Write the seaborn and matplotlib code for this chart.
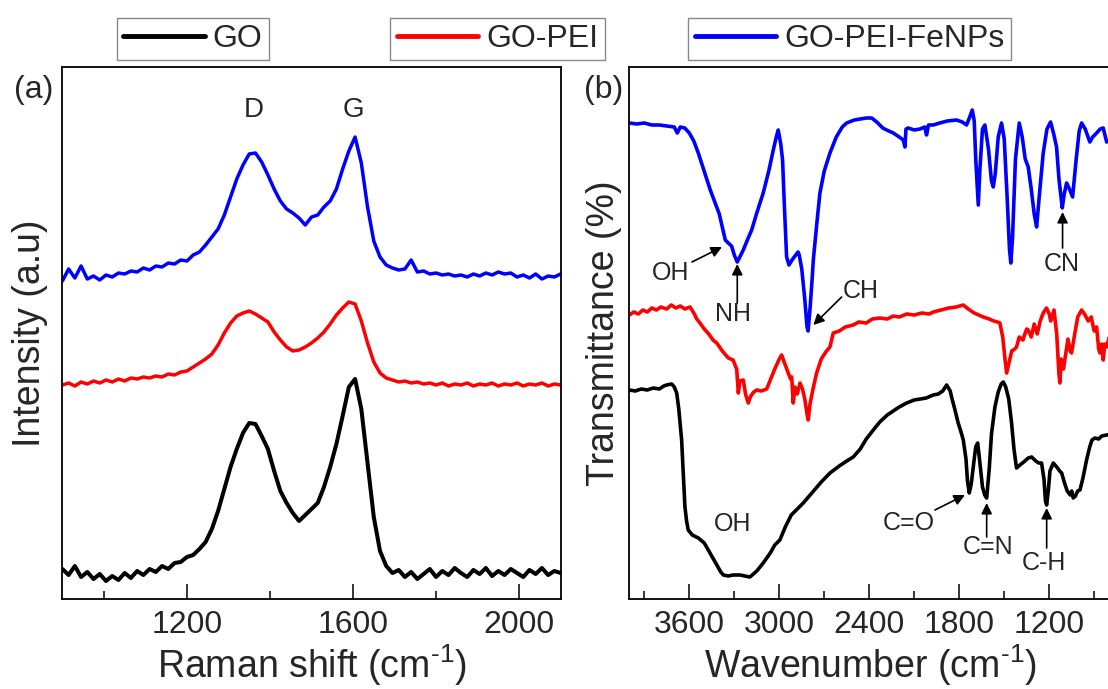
import numpy as np
import pandas as pd
import matplotlib
matplotlib.use("Agg")
import matplotlib.pyplot as plt
import seaborn as sns
from matplotlib.lines import Line2D
from matplotlib.ticker import MultipleLocator

# ---------------- Raman data (panel a) ----------------
raman_shift = [900, 915, 930, 945, 960, 975, 990, 1005, 1020, 1035, 1050, 1065, 1080, 1095,
               1110, 1125, 1140, 1155, 1170, 1185, 1200, 1215, 1230, 1245, 1260, 1275, 1290,
               1305, 1320, 1335, 1350, 1365, 1380, 1395, 1410, 1425, 1440, 1455, 1470, 1485,
               1500, 1515, 1530, 1545, 1560, 1575, 1590, 1605, 1620, 1635, 1650, 1665, 1680,
               1695, 1710, 1725, 1740, 1755, 1770, 1785, 1800, 1815, 1830, 1845, 1860, 1875,
               1890, 1905, 1920, 1935, 1950, 1965, 1980, 1995, 2010, 2025, 2040, 2055, 2070,
               2085, 2100]

raman_go = [30, 24, 33, 22, 27, 20, 25, 18, 23, 19, 26, 21, 28, 24, 30, 27, 33, 30, 36, 37,
            42, 44, 50, 57, 70, 88, 110, 132, 150, 166, 176, 175, 163, 150, 128, 108, 96, 86,
            78, 84, 90, 96, 112, 132, 155, 183, 212, 220, 190, 136, 82, 48, 33, 26, 29, 22,
            27, 20, 25, 30, 22, 28, 24, 31, 26, 22, 29, 25, 31, 23, 28, 24, 30, 26, 22, 29,
            25, 31, 24, 28, 26]

raman_go_pei = [214, 216, 213, 217, 215, 218, 216, 219, 217, 220, 218, 221, 220, 222, 221,
                223, 222, 225, 224, 227, 228, 232, 236, 240, 245, 254, 266, 276, 283, 286,
                288, 285, 281, 277, 267, 259, 252, 248, 249, 252, 256, 261, 267, 275, 284,
                291, 297, 295, 278, 256, 237, 226, 221, 219, 217, 218, 216, 217, 215, 216,
                214, 216, 213, 215, 214, 216, 213, 215, 214, 216, 213, 215, 214, 216, 213,
                215, 214, 216, 213, 215, 214]

raman_go_pei_fe = [318, 330, 321, 333, 320, 323, 319, 324, 322, 326, 325, 328, 327, 331, 329,
                   333, 332, 336, 335, 339, 338, 344, 347, 354, 362, 370, 384, 402, 420, 434,
                   445, 446, 437, 424, 410, 398, 390, 386, 381, 374, 382, 384, 392, 398, 410,
                   430, 448, 462, 436, 392, 358, 342, 334, 331, 329, 330, 339, 327, 328, 325,
                   326, 324, 325, 323, 324, 322, 325, 323, 326, 324, 327, 325, 326, 322, 324,
                   321, 325, 320, 323, 322, 325]

# ---------------- FTIR data (panel b) ----------------
ftir_fe_wn = [4000, 3950, 3900, 3850, 3800, 3750, 3700, 3680, 3660, 3630, 3600, 3570, 3540,
              3510, 3480, 3460, 3430, 3400, 3380, 3360, 3340, 3318, 3300, 3280, 3260, 3240,
              3210, 3184, 3150, 3107, 3070, 3040, 3020, 3007, 2990, 2978, 2965, 2951, 2935,
              2915, 2895, 2875, 2867, 2850, 2830, 2815, 2808, 2795, 2780, 2773, 2750, 2729,
              2700, 2662, 2620, 2580, 2551, 2500, 2462, 2420, 2384, 2350, 2310, 2284, 2240,
              2200, 2173, 2162, 2155, 2140, 2100, 2062, 2030, 2018, 2005, 1973, 1930, 1880,
              1818, 1780, 1751, 1730, 1713, 1700, 1690, 1673, 1662, 1645, 1629, 1605, 1585,
              1573, 1560, 1540, 1518, 1500, 1480, 1465, 1456, 1445, 1425, 1400, 1380, 1360,
              1340, 1320, 1300, 1284, 1265, 1240, 1215, 1191, 1170, 1151, 1135, 1113, 1100,
              1084, 1065, 1044, 1020, 1000, 984, 960, 929, 910, 884, 860, 840, 817, 790]
ftir_fe_t = [476, 475, 476, 474, 474, 473, 472, 466, 472, 471, 466, 458, 446, 432, 418, 409,
             397, 385, 372, 359, 356, 353, 344, 337, 343, 349, 360, 369, 386, 406, 428, 449,
             462, 469, 455, 439, 390, 342, 334, 339, 343, 347, 344, 330, 300, 272, 268, 290,
             322, 339, 375, 406, 428, 446, 462, 472, 476, 479, 480, 481, 481, 477, 471, 469,
             466, 462, 459, 452, 470, 471, 469, 470, 472, 464, 474, 474, 476, 478, 479, 477,
             474, 482, 489, 478, 440, 394, 430, 470, 474, 450, 418, 412, 425, 462, 476, 460,
             400, 350, 336, 360, 440, 476, 462, 440, 432, 410, 385, 372, 405, 446, 470, 477,
             465, 452, 420, 391, 405, 416, 410, 402, 440, 468, 476, 470, 457, 462, 466, 470,
             471, 457, 460]

ftir_pei_wn = [4000, 3970, 3940, 3910, 3880, 3850, 3820, 3790, 3751, 3720, 3690, 3660, 3630,
               3595, 3570, 3550, 3529, 3500, 3470, 3442, 3417, 3380, 3340, 3308, 3290, 3284,
               3273, 3262, 3240, 3225, 3207, 3190, 3170, 3151, 3120, 3084, 3060, 3030, 3000,
               2984, 2965, 2945, 2925, 2917, 2907, 2895, 2880, 2862, 2845, 2830, 2815, 2807,
               2795, 2775, 2751, 2720, 2690, 2662, 2640, 2600, 2560, 2507, 2470, 2420, 2380,
               2329, 2280, 2240, 2200, 2150, 2100, 2050, 2000, 1973, 1920, 1870, 1820, 1773,
               1740, 1700, 1670, 1640, 1600, 1570, 1545, 1529, 1510, 1495, 1484, 1470, 1450,
               1430, 1418, 1400, 1385, 1375, 1365, 1350, 1340, 1320, 1300, 1280, 1260, 1240,
               1218, 1200, 1190, 1168, 1150, 1135, 1129, 1120, 1105, 1090, 1075, 1060, 1051,
               1030, 1010, 984, 965, 940, 920, 900, 884, 870, 862, 850, 840, 830, 817, 800, 790]
ftir_pei_t = [284, 287, 285, 289, 287, 291, 289, 292, 290, 294, 291, 293, 290, 292, 286, 280,
              276, 270, 265, 259, 256, 248, 241, 239, 232, 230, 206, 218, 219, 205, 196, 203,
              207, 209, 208, 210, 219, 230, 240, 244, 236, 228, 220, 222, 196, 212, 205, 216,
              210, 200, 185, 179, 195, 210, 226, 240, 247, 252, 266, 268, 272, 274, 277, 276,
              280, 281, 280, 283, 282, 285, 284, 286, 285, 287, 289, 291, 292, 294, 290, 286,
              284, 282, 280, 278, 277, 276, 262, 240, 226, 235, 248, 250, 252, 262, 260, 259,
              264, 270, 269, 262, 275, 265, 278, 286, 291, 285, 278, 289, 265, 225, 216, 240,
              230, 245, 260, 248, 246, 265, 282, 289, 285, 278, 282, 268, 272, 250, 246, 255,
              239, 255, 252, 262, 258]

ftir_go_wn = [4000, 3960, 3920, 3880, 3840, 3800, 3770, 3751, 3717, 3700, 3684, 3670, 3651,
              3640, 3629, 3618, 3607, 3580, 3540, 3500, 3462, 3420, 3390, 3373, 3340, 3307,
              3260, 3230, 3196, 3150, 3107, 3060, 3030, 2996, 2960, 2920, 2880, 2840, 2800,
              2760, 2720, 2662, 2600, 2550, 2507, 2460, 2420, 2373, 2330, 2280, 2240, 2200,
              2151, 2100, 2060, 2020, 1973, 1940, 1910, 1884, 1860, 1851, 1830, 1807, 1790,
              1773, 1755, 1745, 1733, 1720, 1700, 1690, 1677, 1665, 1645, 1630, 1617, 1600,
              1585, 1562, 1540, 1520, 1506, 1490, 1470, 1451, 1435, 1418, 1395, 1370, 1340,
              1317, 1290, 1270, 1251, 1235, 1225, 1217, 1205, 1195, 1173, 1150, 1130, 1117,
              1100, 1080, 1060, 1050, 1040, 1025, 1010, 995, 975, 951, 930, 915, 895, 870,
              850, 817, 790]
ftir_go_t = [209, 208, 210, 209, 211, 210, 213, 214, 215, 212, 206, 190, 159, 125, 92, 78, 69,
             64, 61, 56, 46, 35, 27, 24, 23, 24, 24, 23, 22, 28, 36, 46, 54, 59, 72, 84, 90,
             96, 103, 110, 117, 126, 133, 138, 142, 150, 160, 169, 177, 184, 188, 192, 196,
             199, 200, 201, 204, 205, 208, 214, 208, 202, 190, 176, 168, 159, 140, 118, 106,
             115, 140, 152, 156, 140, 112, 104, 101, 130, 165, 192, 207, 215, 217, 212, 200,
             176, 150, 131, 134, 137, 141, 142, 138, 136, 136, 120, 98, 94, 110, 128, 136,
             132, 128, 126, 117, 108, 104, 108, 101, 103, 108, 109, 121, 139, 152, 159, 161,
             160, 163, 164, 165]

# annotation labels
raman_peaks = ["D", "G"]
ftir_labels = ["OH", "NH", "CH", "CN", "OH", "C=O", "C=N", "C-H"]

# ---------------- style ----------------
sns.set_style("ticks")
plt.rcParams["font.family"] = ["Liberation Sans", "DejaVu Sans"]
plt.rcParams["mathtext.fontset"] = "custom"
plt.rcParams["mathtext.rm"] = "Liberation Sans"
plt.rcParams["mathtext.it"] = "Liberation Sans:italic"
plt.rcParams["mathtext.default"] = "regular"

W, H = 1108, 689
fig = plt.figure(figsize=(W / 100, H / 100), dpi=100)
axA = fig.add_axes([62.4 / W, 90 / H, 498.2 / W, 532 / H])
axB = fig.add_axes([629.3 / W, 90 / H, 481.4 / W, 532 / H])

# panel a
for ys, col, lw in [(raman_go, "black", 2.9), (raman_go_pei, "red", 2.5),
                    (raman_go_pei_fe, "blue", 2.5)]:
    sns.lineplot(x=raman_shift, y=ys, color=col, lw=lw, ax=axA, sort=False, estimator=None)
axA.set_xlim(900, 2100)
axA.set_ylim(0, 532)
axA.set_yticks([])
axA.xaxis.set_major_locator(MultipleLocator(400))
axA.xaxis.set_minor_locator(MultipleLocator(200))
axA.set_xlabel(r"Raman shift (cm$^{\text{-}1}$)", fontsize=27, labelpad=2)
axA.set_ylabel("Intensity (a.u)", fontsize=27)
axA.yaxis.set_label_coords(-0.029, 0.5)
axA.text(1361, 489, raman_peaks[0], fontsize=20, ha="center", va="center")
axA.text(1602, 489, raman_peaks[1], fontsize=20, ha="center", va="center")

# panel b
for xs, ys, col in [(ftir_go_wn, ftir_go_t, "black"), (ftir_pei_wn, ftir_pei_t, "red"),
                    (ftir_fe_wn, ftir_fe_t, "blue")]:
    sns.lineplot(x=xs, y=ys, color=col, lw=2.6, ax=axB, sort=False, estimator=None)
axB.set_xlim(4000, 790)
axB.set_ylim(0, 532)
axB.set_yticks([])
axB.xaxis.set_major_locator(MultipleLocator(600))
axB.xaxis.set_minor_locator(MultipleLocator(300))
axB.set_xlabel(r"Wavenumber (cm$^{\text{-}1}$)", fontsize=27, labelpad=2)
axB.set_ylabel("Transmittance (%)", fontsize=27)
axB.yaxis.set_label_coords(-0.0152, 0.5)

# annotations: (label, text pos, arrow tail, arrow head)
ann = [
    (ftir_labels[0], (3722, 326), (3582, 337), (3382, 352)),
    (ftir_labels[1], (3309, 285), (3280, 296), (3280, 335)),
    (ftir_labels[2], (2455, 308), (2584, 302), (2773, 274)),
    (ftir_labels[3], (1115, 335), (1111, 351), (1111, 387)),
    (ftir_labels[4], (3309, 75), None, None),
    (ftir_labels[5], (2136, 76), (1962, 89), (1762, 104)),
    (ftir_labels[6], (1609, 52), (1617, 62), (1617, 96)),
    (ftir_labels[7], (1237, 36), (1217, 51), (1217, 91)),
]
for lab, tpos, tail, head in ann:
    axB.text(tpos[0], tpos[1], lab, fontsize=18, ha="center", va="center")
    if tail is not None:
        axB.annotate("", xy=head, xytext=tail,
                     arrowprops=dict(arrowstyle="-|>", color="black", lw=1.2,
                                     mutation_scale=16, shrinkA=0, shrinkB=0))

for ax in (axA, axB):
    for sp in ax.spines.values():
        sp.set_linewidth(1.3)
        sp.set_color("black")
    ax.tick_params(axis="x", which="major", direction="in", length=11, width=1.3,
                   labelsize=23, pad=8, top=False)
    ax.tick_params(axis="x", which="minor", direction="in", length=6, width=1.3, top=False)

fig.text(34 / W, 1 - 90 / H, "(a)", fontsize=23, ha="center", va="center")
fig.text(604 / W, 1 - 90 / H, "(b)", fontsize=23, ha="center", va="center")

# three separate legend boxes
for lab, col, cx in [("GO", "black", 193), ("GO-PEI", "red", 497.5),
                     ("GO-PEI-FeNPs", "blue", 849.5)]:
    h = Line2D([], [], color=col, lw=3.5)
    leg = fig.legend(handles=[h], labels=[lab], loc="center",
                     bbox_to_anchor=(cx / W, 1 - 39 / H), fontsize=23, frameon=True,
                     fancybox=False, edgecolor="#888888", framealpha=1,
                     borderpad=0.2, handlelength=2.55, handletextpad=0.25, borderaxespad=0)
    leg.get_frame().set_linewidth(1.0)

fig.savefig("out.png", dpi=100)
